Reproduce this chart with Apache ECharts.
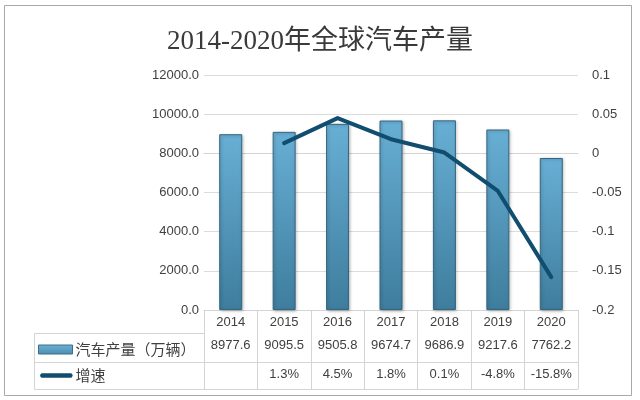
<!DOCTYPE html>
<html>
<head>
<meta charset="utf-8">
<script src="https://cdn.jsdelivr.net/npm/echarts@6/dist/echarts.min.js"></script>
<style>
html,body{margin:0;padding:0;background:#fff;}
#main{width:640px;height:400px;}
</style>
</head>
<body>
<div id="main"></div>
<script>
var titleText = '2014-2020年全球汽车产量';
var years = ['2014','2015','2016','2017','2018','2019','2020'];
var production = [8977.6, 9095.5, 9505.8, 9674.7, 9686.9, 9217.6, 7762.2];
var growth = [null, 0.013, 0.045, 0.018, 0.001, -0.048, -0.158];
var growthLabels = ['', '1.3%', '4.5%', '1.8%', '0.1%', '-4.8%', '-15.8%'];
var seriesNames = ['汽车产量（万辆）', '增速'];

var chart = echarts.init(document.getElementById('main'));
var tableLine = '#d4d4d4';
var txt = '#404040';
var numFont = '"Liberation Sans", "Noto Sans CJK SC", sans-serif';

var barColor = new echarts.graphic.LinearGradient(0, 0, 0, 1, [
  {offset: 0, color: '#68afd5'},
  {offset: 1, color: '#3e7d9d'}
]);
var legendBarColor = new echarts.graphic.LinearGradient(0, 0, 0, 1, [
  {offset: 0, color: '#6db2d6'},
  {offset: 1, color: '#4a8db0'}
]);
var lineColor = '#104d6f';

function valueLabelAxis(offset, labels, showLabel) {
  return {
    type: 'category', data: years.map(function(y, i){ return labels ? labels[i] : y; }),
    position: 'bottom', offset: offset, gridIndex: 0,
    axisLine: {show: true, lineStyle: {color: tableLine, width: 1}},
    axisTick: {show: false},
    axisLabel: {show: showLabel, margin: 6, fontSize: 13, color: txt, fontFamily: numFont, interval: 0},
    splitLine: {show: false}
  };
}

chart.setOption({
  backgroundColor: '#ffffff',
  animation: false,
  title: {
    text: titleText, left: 'center', top: 23,
    textStyle: {fontSize: 27, fontWeight: 'normal', color: '#3a3a3a',
      fontFamily: '"Liberation Serif", "DejaVu Serif", "Noto Sans CJK SC", serif'}
  },
  legend: {
    orient: 'vertical', left: 33, top: 337, itemGap: 11,
    itemWidth: 34, itemHeight: 9, symbolKeepAspect: false,
    textStyle: {fontSize: 15, color: txt, fontFamily: '"Noto Sans CJK SC", sans-serif', padding: [0,0,0,-2]},
    data: [
      {name: seriesNames[0], icon: 'rect', itemStyle: {color: legendBarColor, borderColor: '#3e6f88', borderWidth: 1}},
      {name: seriesNames[1], icon: 'path://M3,2.5 L31,2.5 A3,3 0 0 1 31,7.5 L3,7.5 A3,3 0 0 1 3,2.5 Z M0,0 L0.01,0 Z M0,10 L0.01,10 Z',
        itemStyle: {color: lineColor, borderWidth: 0}, lineStyle: {opacity: 0, width: 0}}
    ]
  },
  grid: {left: 204, right: 62, top: 75, bottom: 90},
  xAxis: [
    {
      type: 'category', data: years, position: 'bottom',
      axisLine: {show: true, lineStyle: {color: tableLine}},
      axisTick: {show: true, length: 79, lineStyle: {color: tableLine}},
      axisLabel: {margin: 6, fontSize: 13, color: txt, fontFamily: numFont, interval: 0},
      splitLine: {show: false}
    },
    valueLabelAxis(23, production.map(function(v){ return v.toFixed(1); }), true),
    valueLabelAxis(52, growthLabels, true),
    valueLabelAxis(79, null, false)
  ],
  yAxis: [
    {
      type: 'value', min: 0, max: 12000, interval: 2000,
      axisLine: {show: false}, axisTick: {show: false},
      splitLine: {lineStyle: {color: '#dcdcdc'}},
      axisLabel: {margin: 5, fontSize: 13, color: txt, fontFamily: numFont,
        formatter: function(v){ return v.toFixed(1); }}
    },
    {
      type: 'value', min: -0.2, max: 0.1, interval: 0.05, position: 'right',
      axisLine: {show: false}, axisTick: {show: false},
      splitLine: {show: false},
      axisLabel: {margin: 14, fontSize: 13, color: txt, fontFamily: numFont}
    }
  ],
  series: [
    {
      name: seriesNames[0], type: 'bar', data: production, barWidth: 23,
      xAxisIndex: 0, yAxisIndex: 0,
      itemStyle: {color: barColor, borderColor: '#35667f', borderWidth: 1,
        shadowColor: 'rgba(0,0,0,0.25)', shadowBlur: 3, shadowOffsetX: 1, shadowOffsetY: 1}
    },
    {
      name: seriesNames[1], type: 'line', data: growth, yAxisIndex: 1, xAxisIndex: 0,
      symbol: 'none', showSymbol: false, connectNulls: false,
      lineStyle: {color: lineColor, width: 4, cap: 'round', join: 'round'},
      itemStyle: {color: lineColor}
    }
  ],
  graphic: [
    {type: 'rect', shape: {x: 4.5, y: 5.5, width: 627, height: 390}, style: {fill: 'none', stroke: '#a8a8a8', lineWidth: 1}, silent: true},
    {type: 'line', shape: {x1: 34.5, y1: 333.5, x2: 204, y2: 333.5}, style: {stroke: tableLine, lineWidth: 1}, silent: true},
    {type: 'line', shape: {x1: 34.5, y1: 362.5, x2: 204, y2: 362.5}, style: {stroke: tableLine, lineWidth: 1}, silent: true},
    {type: 'line', shape: {x1: 34.5, y1: 389.5, x2: 204, y2: 389.5}, style: {stroke: tableLine, lineWidth: 1}, silent: true},
    {type: 'line', shape: {x1: 34.5, y1: 333.5, x2: 34.5, y2: 389.5}, style: {stroke: tableLine, lineWidth: 1}, silent: true}
  ]
});
</script>
</body>
</html>
